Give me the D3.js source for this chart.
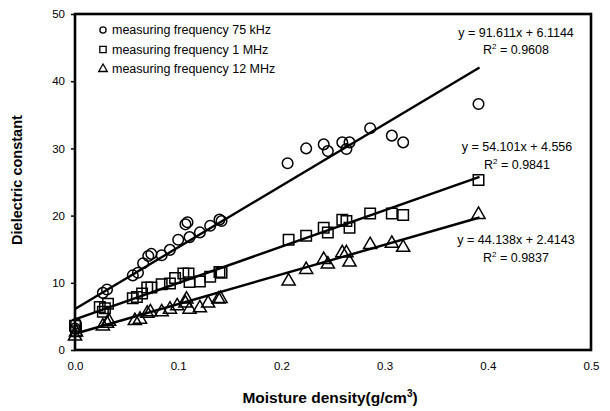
<!DOCTYPE html>
<html>
<head>
<meta charset="utf-8">
<script src="https://cdn.jsdelivr.net/npm/d3@7"></script>
<style>
  body { margin: 0; background: #fff; }
  svg text { font-family: "Liberation Sans", Arial, sans-serif; fill: #000; }
</style>
</head>
<body>
<svg id="chart" width="610" height="411"></svg>
<script>
// data: [moisture density, dielectric constant]
const khz75 = [[0.0, 3.2], [0.001, 3.9], [0.027, 8.5], [0.031, 9.0], [0.056, 11.1], [0.061, 11.5],
  [0.066, 12.9], [0.071, 14.0], [0.074, 14.3], [0.084, 14.1], [0.092, 14.9], [0.1, 16.4],
  [0.107, 18.7], [0.109, 19.0], [0.111, 16.8], [0.121, 17.5], [0.131, 18.5], [0.14, 19.4],
  [0.142, 19.2], [0.206, 27.8], [0.224, 30.0], [0.241, 30.6], [0.245, 29.6], [0.259, 30.9],
  [0.263, 29.9], [0.266, 30.9], [0.286, 33.0], [0.307, 31.9], [0.318, 30.9], [0.391, 36.6]];
const mhz1 = [[0.0, 3.6], [0.001, 2.8], [0.024, 6.4], [0.027, 5.7], [0.029, 6.2], [0.032, 6.9],
  [0.056, 7.7], [0.06, 7.9], [0.065, 8.4], [0.07, 9.3], [0.074, 9.3], [0.084, 9.8],
  [0.092, 9.9], [0.097, 10.7], [0.105, 11.4], [0.11, 11.4], [0.111, 10.1], [0.121, 10.2],
  [0.131, 10.9], [0.14, 11.6], [0.142, 11.5], [0.207, 16.4], [0.224, 17.0], [0.241, 18.2],
  [0.245, 17.5], [0.259, 19.4], [0.263, 19.2], [0.266, 18.2], [0.286, 20.3], [0.307, 20.3],
  [0.318, 20.1], [0.391, 25.3]];
const mhz12 = [[0.0, 2.2], [0.001, 2.8], [0.027, 3.7], [0.031, 4.1], [0.033, 4.4], [0.058, 4.5],
  [0.063, 4.7], [0.07, 5.6], [0.073, 5.8], [0.084, 5.8], [0.092, 6.2], [0.099, 6.7],
  [0.107, 7.1], [0.108, 7.7], [0.111, 6.2], [0.121, 6.4], [0.129, 7.1], [0.139, 7.7],
  [0.141, 7.8], [0.207, 10.4], [0.224, 12.1], [0.241, 13.6], [0.245, 12.9], [0.259, 14.6],
  [0.263, 14.6], [0.266, 13.2], [0.286, 15.8], [0.307, 16.0], [0.318, 15.4], [0.391, 20.3]];

const fitSlopes = [91.611, 54.101, 44.138];
const fitIntercepts = [6.1144, 4.556, 2.4143];
const fitR2 = ["0.9608", "0.9841", "0.9837"];
const fitEnd = 0.392;
const legendLabels = ["measuring frequency 75 kHz", "measuring frequency 1 MHz", "measuring frequency 12 MHz"];
const xTicks = [0, 0.1, 0.2, 0.3, 0.4, 0.5];
const yTicks = [0, 10, 20, 30, 40, 50];

const svg = d3.select("#chart");
const plotL = 75, plotR = 591, plotT = 14, plotB = 350;

const x = d3.scaleLinear().domain([0, 0.5]).range([plotL, plotR]);
const y = d3.scaleLinear().domain([0, 50]).range([plotB, plotT]);

// axes (tick labels only, frame drawn separately)
const yAxis = svg.append("g")
  .attr("transform", `translate(${plotL},0)`)
  .call(d3.axisLeft(y).tickValues(yTicks).tickFormat(d3.format("d")).tickSize(4).tickPadding(6));
const xAxis = svg.append("g")
  .attr("transform", `translate(0,${plotB})`)
  .call(d3.axisBottom(x).tickValues(xTicks).tickFormat(d3.format(".1f")).tickSize(0).tickPadding(12));
[xAxis, yAxis].forEach(g => {
  g.select(".domain").remove();
  g.selectAll("text").style("font-size", "11.5px").style("font-family", "'Liberation Sans', Arial, sans-serif");
  g.selectAll("line").attr("stroke", "#000").attr("stroke-width", 1.5);
});

// fit lines
const series = [khz75, mhz1, mhz12];
fitSlopes.forEach((m, i) => {
  svg.append("line")
    .attr("x1", x(0)).attr("y1", y(fitIntercepts[i]))
    .attr("x2", x(fitEnd)).attr("y2", y(fitIntercepts[i] + m * fitEnd))
    .attr("stroke", "#000").attr("stroke-width", 2.4);
});

// markers
const markerPath = [
  d3.symbol().type(d3.symbolCircle).size(88)(),
  d3.symbol().type(d3.symbolSquare).size(110)(),
  d3.symbol().type(d3.symbolTriangle).size(75)()
];
series.forEach((data, i) => {
  svg.append("g").selectAll("path")
    .data(data).join("path")
    .attr("d", markerPath[i])
    .attr("transform", d => `translate(${x(d[0])},${y(d[1]) + (i === 2 ? 1 : 0)})`)
    .attr("fill", "none").attr("stroke", "#000").attr("stroke-width", 1.5);
});

// frame
svg.append("rect")
  .attr("x", plotL).attr("y", plotT)
  .attr("width", plotR - plotL).attr("height", plotB - plotT)
  .attr("fill", "none").attr("stroke", "#000").attr("stroke-width", 2.6);

// legend
const legend = svg.append("g");
const legendSym = [
  d3.symbol().type(d3.symbolCircle).size(30)(),
  d3.symbol().type(d3.symbolSquare).size(40)(),
  d3.symbol().type(d3.symbolTriangle).size(32)()
];
legendLabels.forEach((lab, i) => {
  const ly = 34 + i * 19.5;
  legend.append("path").attr("d", legendSym[i])
    .attr("transform", `translate(103,${ly - 4})`)
    .attr("fill", "none").attr("stroke", "#000").attr("stroke-width", 1.3);
  legend.append("text").attr("x", 112).attr("y", ly)
    .style("font-size", "12.5px").text(lab);
});

// equations
const eqPos = [[516, 37, 54], [517, 151, 169], [516, 244, 262]];
fitSlopes.forEach((m, i) => {
  const [cx, y1, y2] = eqPos[i];
  svg.append("text").attr("x", cx).attr("y", y1).attr("text-anchor", "middle")
    .style("font-size", "12.5px").text(`y = ${m}x + ${fitIntercepts[i]}`);
  const t = svg.append("text").attr("x", cx).attr("y", y2).attr("text-anchor", "middle")
    .style("font-size", "12.5px");
  t.append("tspan").text("R");
  t.append("tspan").attr("dy", -5).style("font-size", "8px").text("2");
  t.append("tspan").attr("dy", 5).text(` = ${fitR2[i]}`);
});

// axis titles
svg.append("text")
  .attr("transform", `translate(22,${(plotT + plotB) / 2 - 2}) rotate(-90)`)
  .attr("text-anchor", "middle")
  .style("font-size", "14.5px").style("font-weight", "bold")
  .text("Dielectric constant");
const xt = svg.append("text")
  .attr("x", 330).attr("y", 403)
  .attr("text-anchor", "middle")
  .style("font-size", "15.5px").style("font-weight", "bold");
xt.append("tspan").text("Moisture density(g/cm");
xt.append("tspan").attr("dy", -6).style("font-size", "10px").text("3");
xt.append("tspan").attr("dy", 6).text(")");
</script>
</body>
</html>
